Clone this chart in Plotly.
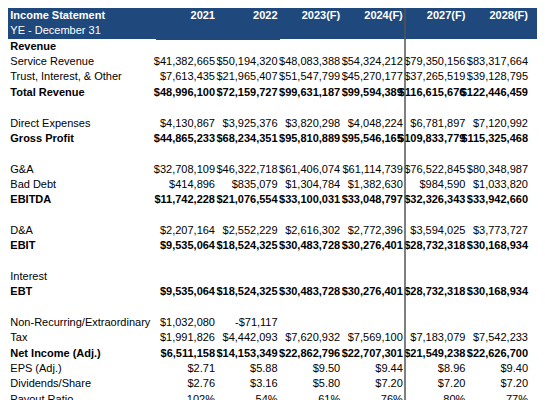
import plotly.graph_objects as go

labels = ["Revenue", "Service Revenue", "Trust, Interest, & Other", "Total Revenue", "",
          "Direct Expenses", "Gross Profit", "", "G&A", "Bad Debt", "EBITDA", "",
          "D&A", "EBIT", "", "Interest", "EBT", "", "Non-Recurring/Extraordinary", "Tax",
          "Net Income (Adj.)", "EPS (Adj.)", "Dividends/Share", "Payout Ratio"]
bold_rows = [0, 3, 6, 10, 13, 16, 20]
years = ["2021", "2022", "2023(F)", "2024(F)", "2027(F)", "2028(F)"]

y2021 = [None, 41382665, 7613435, 48996100, None, 4130867, 44865233, None, 32708109, 414896, 11742228, None,
         2207164, 9535064, None, None, 9535064, None, 1032080, 1991826, 6511158, 2.71, 2.76, 102]
y2022 = [None, 50194320, 21965407, 72159727, None, 3925376, 68234351, None, 46322718, 835079, 21076554, None,
         2552229, 18524325, None, None, 18524325, None, -71117, 4442093, 14153349, 5.88, 3.16, 54]
y2023 = [None, 48083388, 51547799, 99631187, None, 3820298, 95810889, None, 61406074, 1304784, 33100031, None,
         2616302, 30483728, None, None, 30483728, None, None, 7620932, 22862796, 9.50, 5.80, 61]
y2024 = [None, 54324212, 45270177, 99594389, None, 4048224, 95546165, None, 61114739, 1382630, 33048797, None,
         2772396, 30276401, None, None, 30276401, None, None, 7569100, 22707301, 9.44, 7.20, 76]
y2027 = [None, 79350156, 37265519, 116615676, None, 6781897, 109833779, None, 76522845, 984590, 32326343, None,
         3594025, 28732318, None, None, 28732318, None, None, 7183079, 21549238, 8.96, 7.20, 80]
y2028 = [None, 83317664, 39128795, 122446459, None, 7120992, 115325468, None, 80348987, 1033820, 33942660, None,
         3773727, 30168934, None, None, 30168934, None, None, 7542233, 22626700, 9.40, 7.20, 77]

def fmt(v, i):
    if v is None:
        return ""
    if i == 23:
        s = f"{v:.0f}%"
    elif i in (21, 22):
        s = f"${v:.2f}"
    else:
        s = ("-" if v < 0 else "") + f"${abs(v):,.0f}"
    return f"<b>{s}</b>" if i in bold_rows else s

FONT = "Liberation Sans, Arial"
rows = list(range(len(labels)))
fig = go.Figure()

# header band and separator
fig.add_shape(type="rect", xref="paper", yref="paper", x0=0, x1=1, y0=1 - 31/400, y1=1,
              fillcolor="#1F497D", line_width=0, layer="below")
fig.add_shape(type="line", xref="paper", yref="paper", x0=148/545, x1=272/545, y0=1 - 31/400, y1=1 - 31/400,
              line=dict(color="#1F497D", width=2))
fig.add_shape(type="line", xref="paper", yref="paper", x0=397/545, x1=397/545, y0=0, y1=1,
              line=dict(color="#555555", width=1.5))

# label column
lab_cells = [f"<b>{l}</b>" if i in bold_rows else l for i, l in enumerate(labels)]
fig.add_trace(go.Scatter(x=[-2.27] * len(rows), y=rows, text=lab_cells, mode="text",
                         textposition="middle right", textfont=dict(size=11, family=FONT, color="black"),
                         hoverinfo="skip", showlegend=False))
fig.add_trace(go.Scatter(x=[-2.27, -2.27], y=[-2, -1], text=["<b>Income Statement</b>", "YE - December 31"],
                         mode="text", textposition="middle right",
                         textfont=dict(size=11, family=FONT, color="white"), hoverinfo="skip", showlegend=False))

for k, (yr, col) in enumerate(zip(years, (y2021, y2022, y2023, y2024, y2027, y2028)), start=1):
    fig.add_trace(go.Scatter(x=[k] * len(rows), y=rows, text=[fmt(v, i) for i, v in enumerate(col)],
                             mode="text", textposition="middle left",
                             textfont=dict(size=11, family=FONT, color="black"),
                             hoverinfo="skip", showlegend=False))
    fig.add_trace(go.Scatter(x=[k], y=[-2], text=[f"<b>{yr}</b>"], mode="text", textposition="middle left",
                             textfont=dict(size=11, family=FONT, color="white"),
                             hoverinfo="skip", showlegend=False))

fig.update_xaxes(range=[1 - 207/62.6, 1 + 338/62.6], visible=False, fixedrange=True)
fig.update_yaxes(range=[(400 - 39) / 15.35, -39 / 15.35], visible=False, fixedrange=True)
fig.update_layout(width=545, height=400, margin=dict(l=0, r=0, t=0, b=0),
                  paper_bgcolor="white", plot_bgcolor="white")
fig.write_html("out.html")
